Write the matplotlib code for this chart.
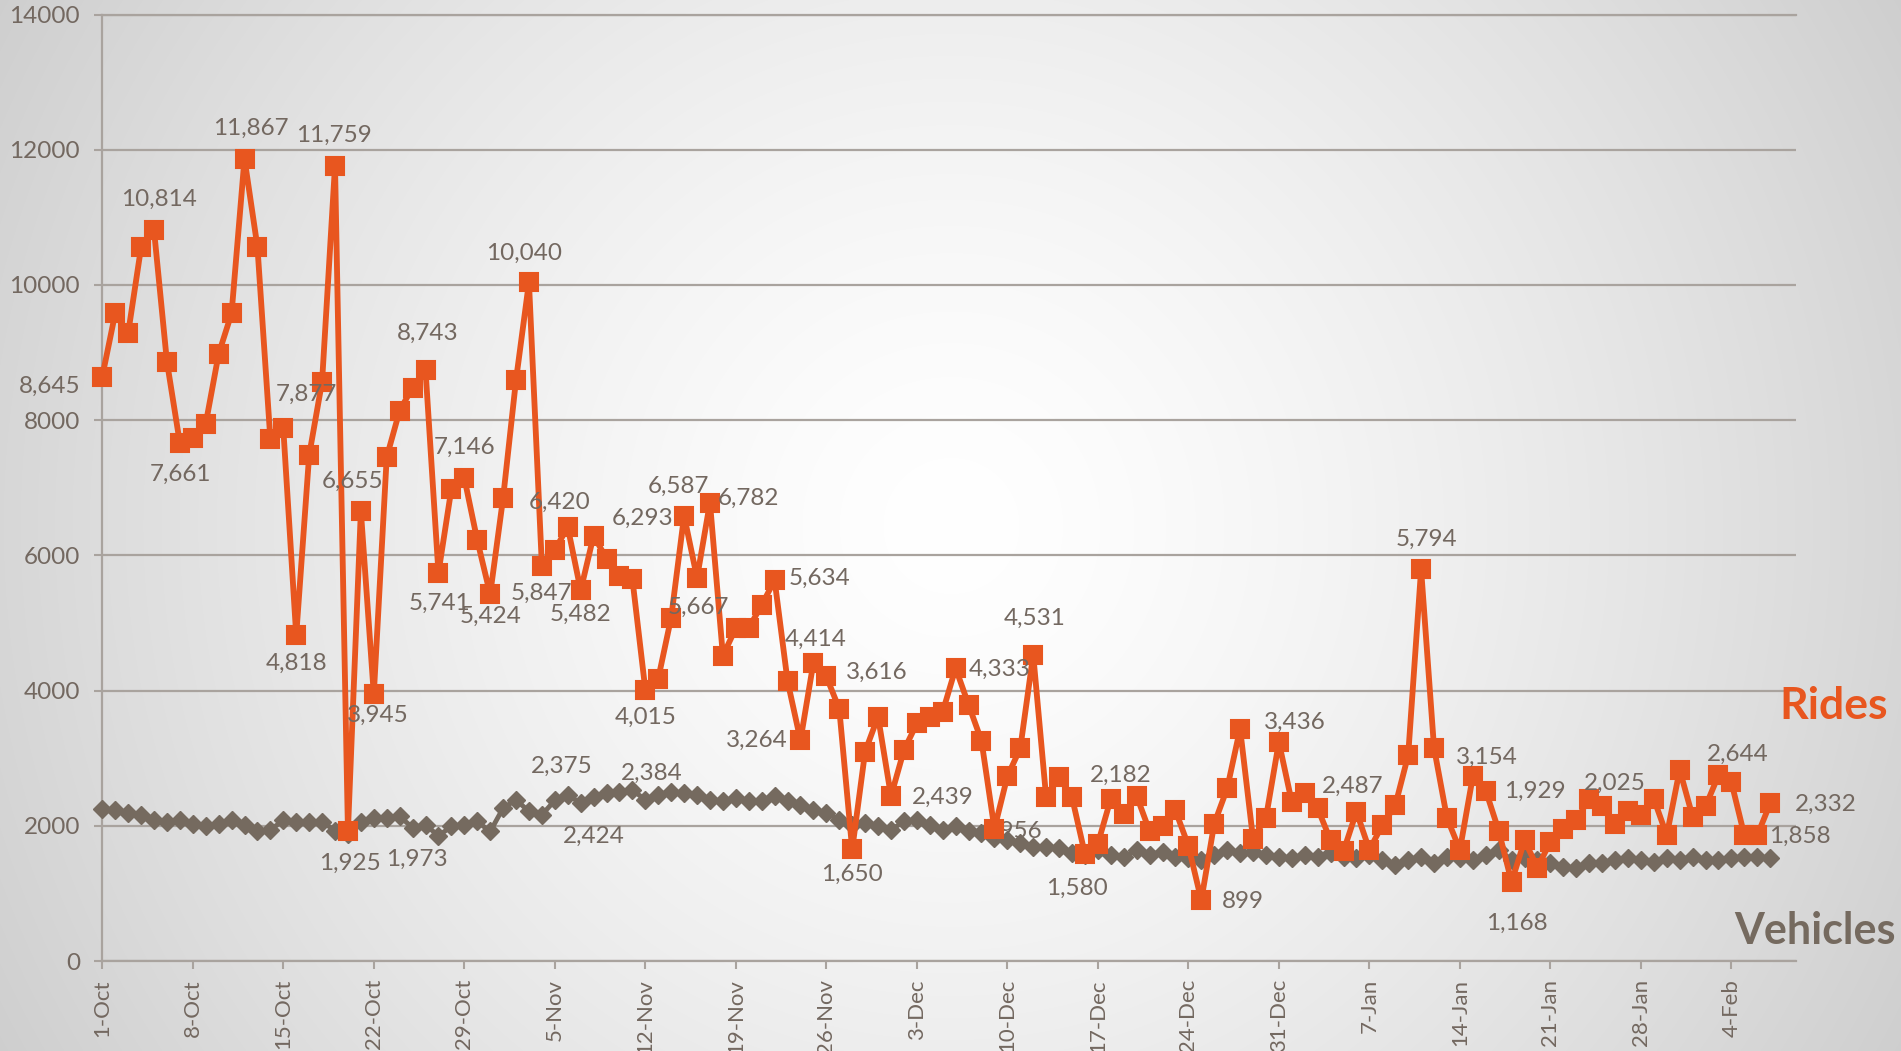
import numpy as np
import matplotlib
matplotlib.use("Agg")
import matplotlib.pyplot as plt

# ---------------- data ----------------
tick_labels = ["1-Oct", "8-Oct", "15-Oct", "22-Oct", "29-Oct", "5-Nov", "12-Nov",
               "19-Nov", "26-Nov", "3-Dec", "10-Dec", "17-Dec", "24-Dec", "31-Dec",
               "7-Jan", "14-Jan", "21-Jan", "28-Jan", "4-Feb"]

rides = [8645, 9580, 9284, 10554, 10814, 8866, 7661, 7734, 7945, 8979,
         9580, 11867, 10564, 7718, 7877, 4818, 7480, 8570, 11759, 1925,
         6655, 3945, 7454, 8142, 8482, 8743, 5741, 6982, 7146, 6227,
         5424, 6847, 8595, 10040, 5847, 6080, 6420, 5482, 6293, 5951,
         5693, 5650, 4015, 4178, 5080, 6587, 5667, 6782, 4515, 4926,
         4926, 5264, 5634, 4141, 3264, 4414, 4209, 3730, 1650, 3098,
         3616, 2439, 3117, 3515, 3607, 3687, 4333, 3791, 3258, 1956,
         2730, 3147, 4531, 2423, 2718, 2423, 1580, 1736, 2399, 2182,
         2442, 1920, 2000, 2227, 1706, 899, 2031, 2552, 3436, 1810,
         2117, 3239, 2350, 2487, 2258, 1785, 1626, 2209, 1644, 2012,
         2301, 3043, 5794, 3154, 2117, 1644, 2730, 2521, 1929, 1168,
         1785, 1380, 1767, 1951, 2086, 2399, 2288, 2025, 2215, 2166,
         2399, 1859, 2828, 2135, 2288, 2748, 2644, 1859, 1858, 2332]

vehicles = [2250, 2230, 2190, 2160, 2080, 2050, 2090, 2020, 1990, 2030,
            2090, 2010, 1920, 1940, 2080, 2060, 2060, 2060, 1930, 1880,
            2050, 2110, 2113, 2138, 1973, 2015, 1852, 1990, 2015, 2064,
            1916, 2261, 2385, 2212, 2163, 2375, 2458, 2335, 2424, 2483,
            2500, 2530, 2384, 2458, 2500, 2483, 2458, 2385, 2360, 2410,
            2360, 2360, 2434, 2360, 2310, 2237, 2187, 2089, 2015, 2040,
            1990, 1941, 2064, 2089, 2015, 1941, 1990, 1916, 1892, 1818,
            1793, 1744, 1694, 1684, 1670, 1596, 1571, 1645, 1571, 1546,
            1635, 1571, 1620, 1546, 1522, 1497, 1571, 1635, 1596, 1620,
            1571, 1546, 1522, 1571, 1546, 1596, 1546, 1522, 1571, 1497,
            1423, 1497, 1546, 1448, 1546, 1522, 1497, 1571, 1645, 1497,
            1522, 1497, 1448, 1398, 1374, 1448, 1448, 1497, 1522, 1497,
            1472, 1522, 1497, 1546, 1497, 1497, 1522, 1546, 1546, 1522]

y_ticks = [0, 2000, 4000, 6000, 8000, 10000, 12000, 14000]

# data-label placement (pixel offsets of label centre from the point)
rides_label_pos = {
    0: (-53, -10), 4: (5, 31), 6: (1, -31), 11: (6, 30), 14: (23, 34),
    15: (0, -28), 18: (-1, 31), 19: (2, -32), 20: (-8, 30), 21: (4, -21),
    25: (2, 37), 26: (1, -30), 28: (0, 31), 30: (0, -22), 33: (-5, 29),
    34: (0, -28), 36: (-8, 25), 37: (0, -24), 38: (49, 17), 42: (0, -28),
    45: (-6, 29), 46: (1, -29), 47: (39, 4), 52: (45, 2), 54: (-44, 0),
    55: (2, 23), 58: (0, -25), 60: (-1, 44), 61: (52, -1), 66: (44, -1),
    69: (16, -3), 72: (1, 36), 76: (-8, -34), 79: (-3, 38), 85: (42, -1),
    88: (55, 6), 93: (48, 7), 102: (5, 30), 103: (53, -10), 108: (36, 39),
    109: (5, -41), 117: (0, 41), 126: (6, 28), 128: (43, -1), 129: (56, -1),
}
vehicles_label_pos = {24: (4, -32), 35: (7, 34), 38: (0, -39), 42: (6, 27)}

# ---------------- style ----------------
ORANGE = "#E8561F"
VGRAY = "#756A5F"
TEXT = "#736860"
GRID = "#A9A39E"
FONT = "Lato"
FS = 17.5

plt.rcParams["font.family"] = [FONT, "DejaVu Sans"]

W, H = 1901, 1051
fig = plt.figure(figsize=(W / 100, H / 100), dpi=100)

# radial gradient background
bg = fig.add_axes([0, 0, 1, 1], zorder=-10)
yy, xx = np.mgrid[0:H, 0:W]
cx, cy = 0.5 * W, 0.5 * H
r = np.hypot(xx - cx, yy - cy) / np.hypot(cx, cy)
val = 1.0 - 0.19 * r ** 1.4
bg.imshow(np.dstack([val, val, val]), aspect="auto", extent=[0, 1, 0, 1],
          origin="upper", interpolation="bilinear")
bg.axis("off")

ax = fig.add_axes([0.0538, 0.0856, 0.891, 0.9006], zorder=1)
ax.patch.set_visible(False)

x = np.arange(len(rides))

ax.plot(x, vehicles, color=VGRAY, lw=3.5, marker="D", markersize=9.0,
        markeredgewidth=1.0, markeredgecolor=VGRAY, markerfacecolor=VGRAY,
        zorder=3, clip_on=False)
ax.plot(x, rides, color=ORANGE, lw=4.2, marker="s", markersize=13.0,
        markeredgewidth=1.5, markeredgecolor=ORANGE, markerfacecolor=ORANGE,
        zorder=4, clip_on=False)

for i, (dx, dy) in rides_label_pos.items():
    ax.annotate(f"{rides[i]:,}", (x[i], rides[i]), xytext=(dx, dy),
                textcoords="offset pixels", ha="center", va="center",
                fontsize=FS, color=TEXT, zorder=6 if i != 69 else 3.5,
                annotation_clip=False)
for i, (dx, dy) in vehicles_label_pos.items():
    ax.annotate(f"{vehicles[i]:,}", (x[i], vehicles[i]), xytext=(dx, dy),
                textcoords="offset pixels", ha="center", va="center",
                fontsize=FS, color=TEXT, zorder=6, annotation_clip=False)

ax.set_xlim(0, 131)
ax.set_ylim(0, 14000)
ax.set_yticks(y_ticks)
ax.set_yticklabels([str(v) for v in y_ticks])
ax.set_xticks(x[::7])
ax.set_xticklabels(tick_labels, rotation=90)

ax.yaxis.grid(True, color=GRID, lw=1.6)
ax.set_axisbelow(True)
ax.spines["right"].set_visible(False)
for s in ["left", "bottom", "top"]:
    ax.spines[s].set_color(GRID)
    ax.spines[s].set_linewidth(1.6)

ax.tick_params(axis="x", length=6, width=1.5, color=GRID, pad=7,
               labelsize=16, labelcolor=TEXT)
ax.tick_params(axis="y", length=6, width=1.5, color=GRID, pad=10,
               labelsize=FS, labelcolor=TEXT)

fig.text(1834 / W, 1 - 706 / H, "Rides", color=ORANGE, fontsize=32,
         fontweight="bold", ha="center", va="center")
fig.text(1815 / W, 1 - 931 / H, "Vehicles", color=VGRAY, fontsize=31,
         fontweight="bold", ha="center", va="center")

fig.savefig("out.png", dpi=100)
